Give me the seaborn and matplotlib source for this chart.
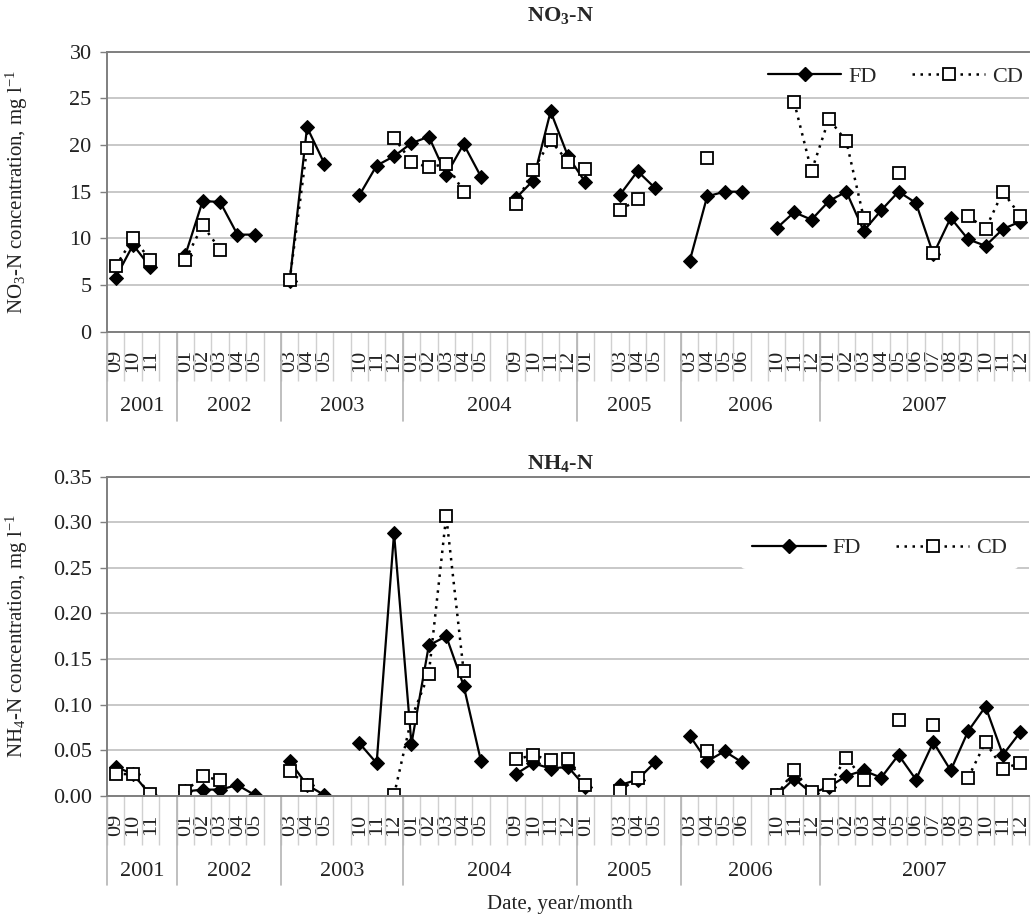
import numpy as np
import pandas as pd
import matplotlib
matplotlib.use('Agg')
import matplotlib.pyplot as plt
import seaborn as sns
from matplotlib.lines import Line2D
from matplotlib import transforms

nan = np.nan

# category axis: month labels, '' = empty slot between sampling periods
months = ['09', '10', '11', '',
          '01', '02', '03', '04', '05', '',
          '03', '04', '05', '', '10', '11', '12',
          '01', '02', '03', '04', '05', '', '09', '10', '11', '12',
          '01', '', '03', '04', '05', '',
          '03', '04', '05', '06', '', '10', '11', '12',
          '01', '02', '03', '04', '05', '06', '07', '08', '09', '10', '11', '12']
years = ['2001', '2002', '2003', '2004', '2005', '2006', '2007']
year_start = [0, 4, 10, 17, 27, 33, 41]

# NO3-N, mg/l
no3_fd = [5.8, 9.3, 6.9, nan,
          8.2, 14.0, 13.9, 10.4, 10.4, nan,
          5.4, 21.9, 18.0, nan, 14.6, 17.8, 18.8,
          20.2, 20.9, 16.8, 20.1, 16.6, nan, 14.3, 16.2, 23.6, 18.8,
          16.0, nan, 14.7, 17.2, 15.4, nan,
          7.6, 14.5, 15.0, 15.0, nan, 11.1, 12.8, 12.0,
          14.0, 15.0, 10.8, 13.0, 15.0, 13.8, 8.3, 12.2, 9.9, 9.2, 11.0, 11.8]
no3_cd = [7.0, 10.0, 7.7, nan,
          7.7, 11.4, 8.8, nan, nan, nan,
          5.5, 19.7, nan, nan, nan, nan, 20.8,
          18.2, 17.6, 18.0, 15.0, nan, nan, 13.7, 17.3, 20.5, 18.2,
          17.4, nan, 13.0, 14.2, nan, nan,
          nan, 18.6, nan, nan, nan, nan, 24.6, 17.2,
          22.8, 20.4, 12.2, nan, 17.0, nan, 8.4, nan, 12.4, 11.0, 15.0, 12.4]

# NH4-N, mg/l
nh4_fd = [0.032, 0.024, 0.001, nan,
          0.005, 0.007, 0.007, 0.012, 0.001, nan,
          0.038, 0.012, 0.001, nan, 0.058, 0.036, 0.288,
          0.057, 0.165, 0.175, 0.121, 0.038, nan, 0.024, 0.036, 0.030, 0.032,
          0.010, nan, 0.012, 0.018, 0.037, nan,
          0.066, 0.038, 0.049, 0.037, nan, 0.001, 0.019, 0.003,
          0.010, 0.022, 0.028, 0.020, 0.045, 0.018, 0.059, 0.028, 0.071, 0.098, 0.045, 0.070]
nh4_cd = [0.024, 0.024, 0.002, nan,
          0.005, 0.022, 0.017, nan, nan, nan,
          0.027, 0.012, nan, nan, nan, nan, 0.001,
          0.085, 0.134, 0.307, 0.137, nan, nan, 0.040, 0.045, 0.039, 0.040,
          0.012, nan, 0.006, 0.020, nan, nan,
          nan, 0.049, nan, nan, nan, 0.001, 0.028, 0.004,
          0.012, 0.042, 0.018, nan, 0.083, nan, 0.078, nan, 0.020, 0.059, 0.030, 0.036]


def to_long(vals):
    v = pd.Series(vals, dtype=float)
    df = pd.DataFrame({'slot': np.arange(len(v)), 'value': v,
                       'seg': v.isna().cumsum()})
    return df.dropna()


sns.set_theme(style='white')
plt.rcParams['font.family'] = ['Liberation Serif', 'DejaVu Serif']
plt.rcParams['mathtext.fontset'] = 'custom'
plt.rcParams['mathtext.rm'] = 'Liberation Serif'
plt.rcParams['mathtext.it'] = 'Liberation Serif:italic'
plt.rcParams['mathtext.bf'] = 'Liberation Serif:bold'

W, H = 1035, 924
fig = plt.figure(figsize=(W / 100, H / 100), dpi=100)
ax1 = fig.add_axes([107 / W, 1 - 331.7 / H, 922 / W, 280 / H])
ax2 = fig.add_axes([107 / W, 1 - 796 / H, 922 / W, 319.5 / H])

fd_kw = dict(color='black', lw=1.6, marker='D', markersize=7, markeredgecolor='black')
cd_kw = dict(color='black', lw=1.8, linestyle=(0, (1, 2.2)), marker='s', markersize=8.5,
             markerfacecolor='white', markeredgecolor='black', markeredgewidth=1.3)
dark = '#7f7f7f'


def panel(ax, fd, cd, ymax, ystep, fmt, ylabel, leg_xy, leg_pad):
    sns.lineplot(data=to_long(fd), x='slot', y='value', units='seg', estimator=None,
                 sort=False, ax=ax, legend=False, **fd_kw)
    sns.lineplot(data=to_long(cd), x='slot', y='value', units='seg', estimator=None,
                 sort=False, ax=ax, legend=False, **cd_kw)
    ax.set_xlim(-0.5, 52.5)
    ax.set_ylim(0, ymax)
    yt = np.arange(0, ymax + ystep / 2, ystep)
    ax.set_yticks(yt)
    ax.set_yticklabels([fmt.format(t) for t in yt])
    ax.set_xticks(range(len(months)))
    ax.set_xticklabels(months, rotation=90)
    ax.set_xticks(np.arange(-0.5, len(months), 1), minor=True)
    ax.tick_params(axis='x', which='major', length=0, pad=13, labelsize=16, colors='#222222')
    ax.tick_params(axis='x', which='minor', bottom=True, length=35, width=1, color='#d0d0d0')
    ax.tick_params(axis='y', left=True, length=5, width=1, color=dark, labelsize=16,
                   pad=6, labelcolor='#222222')
    ax.yaxis.grid(True, color='#c8c8c8', lw=1.4)
    ax.xaxis.grid(False)
    ax.set_axisbelow(True)
    for s in ['left', 'bottom', 'top']:
        ax.spines[s].set_color(dark)
        ax.spines[s].set_linewidth(1.4)
    ax.spines['right'].set_visible(False)
    ax.set_xlabel('')
    ax.set_ylabel(ylabel, fontsize=15, color='#222222')
    ax.yaxis.set_label_coords(-0.083, 0.5)

    # second level of the category axis: years
    h = ax.get_position().height * H
    tr = transforms.blended_transform_factory(ax.transData, ax.transAxes)
    edges = [s - 0.5 for s in year_start] + [len(months) - 0.5]
    for i, yr in enumerate(years):
        ax.plot([edges[i], edges[i]], [0, -89 / h], transform=tr, clip_on=False,
                color='#b4b4b4', lw=1.2)
        ax.text((edges[i] + edges[i + 1]) / 2, -75 / h, yr, transform=tr,
                ha='center', va='center', fontsize=16, color='#222222')

    handles = [Line2D([], [], **fd_kw), Line2D([], [], **cd_kw)]
    ax.legend(handles, ['FD', 'CD'], loc='center', bbox_to_anchor=leg_xy, ncol=2,
              frameon=True, facecolor='white', edgecolor='none', framealpha=1,
              fontsize=16, handlelength=3.3, handletextpad=0.3, columnspacing=1.6,
              borderpad=leg_pad)


panel(ax1, no3_fd, no3_cd, 30, 5, '{:.0f}',
      'NO$_3$-N concentration, mg l$^{-1}$', (0.855, 0.911), 0.25)
panel(ax2, nh4_fd, nh4_cd, 0.35, 0.05, '{:.2f}',
      'NH$_4$-N concentration, mg l$^{-1}$', (0.838, 0.776), 0.5)

fig.text(560 / W, 1 - 15 / H, 'NO$_\\mathbf{3}$-N', ha='center', va='center',
         fontsize=16, fontweight='bold')
fig.text(560 / W, 1 - 463 / H, 'NH$_\\mathbf{4}$-N', ha='center', va='center',
         fontsize=16, fontweight='bold')
fig.text(560 / W, 1 - 905 / H, 'Date, year/month', ha='center', va='center',
         fontsize=15, color='#222222')

fig.savefig('out.png', dpi=100)
